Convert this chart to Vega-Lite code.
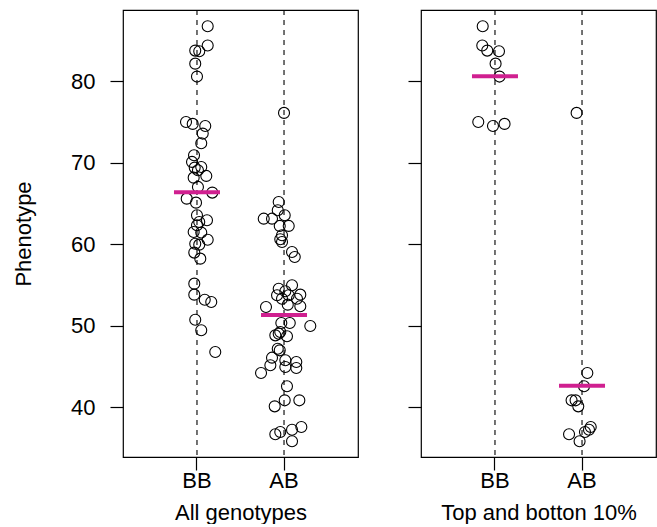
{
  "$schema": "https://vega.github.io/schema/vega-lite/v6.json",
  "padding": {"left": 11, "top": 8, "right": 0, "bottom": 0},
  "bounds": "flush",
  "spacing": 63,
  "config": {
    "font": "Liberation Sans",
    "view": {"stroke": "black", "strokeWidth": 1.2},
    "axis": {"grid": false, "domain": false, "labelFont": "Liberation Sans", "titleFont": "Liberation Sans", "labelFontSize": 22, "titleFontSize": 22, "titleFontWeight": "normal", "labelColor": "black", "titleColor": "black", "tickColor": "black", "tickSize": 13, "tickWidth": 1.2}
  },
  "datasets": {
    "all": [
      {"g":"BB","v":86.77,"j":0.123},{"g":"BB","v":84.39,"j":0.123},{"g":"BB","v":83.77,"j":-0.02},{"g":"BB","v":83.70,"j":0.026},
      {"g":"BB","v":82.17,"j":-0.02},{"g":"BB","v":80.58,"j":0.0},{"g":"BB","v":75.00,"j":-0.126},{"g":"BB","v":74.77,"j":-0.049},
      {"g":"BB","v":74.52,"j":0.095},{"g":"BB","v":73.58,"j":0.066},{"g":"BB","v":72.39,"j":0.049},{"g":"BB","v":70.92,"j":-0.034},
      {"g":"BB","v":70.10,"j":-0.057},{"g":"BB","v":69.40,"j":-0.026},{"g":"BB","v":69.48,"j":0.049},{"g":"BB","v":69.08,"j":0.011},
      {"g":"BB","v":68.38,"j":0.107},{"g":"BB","v":68.17,"j":-0.038},{"g":"BB","v":67.03,"j":0.011},{"g":"BB","v":66.33,"j":0.176},
      {"g":"BB","v":65.59,"j":-0.118},{"g":"BB","v":65.10,"j":-0.011},{"g":"BB","v":63.55,"j":0.0},{"g":"BB","v":62.93,"j":0.115},
      {"g":"BB","v":62.73,"j":0.026},{"g":"BB","v":62.32,"j":0.0},{"g":"BB","v":61.50,"j":-0.038},{"g":"BB","v":61.42,"j":0.049},
      {"g":"BB","v":60.55,"j":0.123},{"g":"BB","v":59.94,"j":0.026},{"g":"BB","v":60.05,"j":-0.02},{"g":"BB","v":58.96,"j":-0.031},{"g":"BB","v":58.22,"j":0.038},
      {"g":"BB","v":55.15,"j":-0.031},{"g":"BB","v":53.80,"j":-0.031},{"g":"BB","v":53.18,"j":0.089},{"g":"BB","v":52.90,"j":0.164},
      {"g":"BB","v":50.72,"j":-0.02},{"g":"BB","v":49.42,"j":0.049},{"g":"BB","v":46.76,"j":0.21},
      {"g":"AB","v":76.12,"j":0.0},{"g":"AB","v":65.18,"j":-0.061},{"g":"AB","v":64.16,"j":-0.072},{"g":"AB","v":63.13,"j":-0.233},
      {"g":"AB","v":63.13,"j":-0.138},{"g":"AB","v":63.55,"j":0.008},{"g":"AB","v":62.24,"j":-0.049},{"g":"AB","v":62.24,"j":0.054},
      {"g":"AB","v":61.09,"j":-0.023},{"g":"AB","v":60.60,"j":-0.043},{"g":"AB","v":60.27,"j":-0.023},{"g":"AB","v":59.04,"j":0.092},
      {"g":"AB","v":58.43,"j":0.123},{"g":"AB","v":54.95,"j":0.092},{"g":"AB","v":54.53,"j":-0.061},{"g":"AB","v":54.21,"j":0.015},
      {"g":"AB","v":53.80,"j":0.187},{"g":"AB","v":53.72,"j":-0.08},{"g":"AB","v":53.72,"j":0.054},{"g":"AB","v":53.30,"j":-0.023},
      {"g":"AB","v":53.30,"j":0.149},{"g":"AB","v":52.57,"j":0.043},{"g":"AB","v":52.37,"j":0.187},{"g":"AB","v":52.29,"j":-0.207},
      {"g":"AB","v":50.32,"j":-0.031},{"g":"AB","v":50.32,"j":0.066},{"g":"AB","v":49.95,"j":0.302},{"g":"AB","v":49.21,"j":-0.043},
      {"g":"AB","v":48.80,"j":-0.1},{"g":"AB","v":49.00,"j":-0.061},{"g":"AB","v":48.69,"j":0.034},{"g":"AB","v":47.16,"j":-0.072},
      {"g":"AB","v":46.96,"j":-0.049},{"g":"AB","v":46.06,"j":-0.138},{"g":"AB","v":45.12,"j":-0.157},{"g":"AB","v":45.74,"j":0.015},
      {"g":"AB","v":45.53,"j":0.141},{"g":"AB","v":44.91,"j":0.015},{"g":"AB","v":44.79,"j":0.141},{"g":"AB","v":44.18,"j":-0.264},
      {"g":"AB","v":42.54,"j":0.034},{"g":"AB","v":40.82,"j":0.008},{"g":"AB","v":40.82,"j":0.176},{"g":"AB","v":40.08,"j":-0.107},
      {"g":"AB","v":37.54,"j":0.199},{"g":"AB","v":37.21,"j":0.092},{"g":"AB","v":36.93,"j":-0.043},{"g":"AB","v":36.65,"j":-0.1},
      {"g":"AB","v":35.79,"j":0.092}
    ],
    "top": [
      {"g":"BB","v":86.77,"j":-0.141},{"g":"BB","v":84.39,"j":-0.146},{"g":"BB","v":83.77,"j":-0.089},{"g":"BB","v":83.70,"j":0.046},
      {"g":"BB","v":82.17,"j":0.007},{"g":"BB","v":80.58,"j":0.052},{"g":"BB","v":75.00,"j":-0.192},{"g":"BB","v":74.77,"j":0.11},
      {"g":"BB","v":74.52,"j":-0.023},
      {"g":"AB","v":76.12,"j":-0.062},{"g":"AB","v":44.18,"j":0.061},{"g":"AB","v":42.54,"j":0.023},{"g":"AB","v":40.82,"j":-0.12},
      {"g":"AB","v":40.82,"j":-0.074},{"g":"AB","v":40.08,"j":-0.043},{"g":"AB","v":37.54,"j":0.1},{"g":"AB","v":37.21,"j":0.08},
      {"g":"AB","v":36.93,"j":0.034},{"g":"AB","v":36.65,"j":-0.149},{"g":"AB","v":35.79,"j":-0.028}
    ]
  },
  "hconcat": [
    {
      "width": 235, "height": 447,
      "data": {"name": "all"},
      "encoding": {
        "x": {"field": "g", "type": "nominal", "scale": {"type": "band", "domain": ["BB","AB"], "paddingInner": 0, "paddingOuter": 0.35},
              "axis": {"title": "All genotypes", "labelAngle": 0, "labelPadding": 0, "titlePadding": 11}},
        "y": {"field": "v", "type": "quantitative", "scale": {"domain": [33.86, 88.757], "nice": false, "zero": false},
              "axis": {"values": [40,50,60,70,80], "title": "Phenotype", "labelPadding": 15, "titlePadding": 35}}
      },
      "layer": [
        {"transform": [{"aggregate": [{"op": "count", "as": "n"}], "groupby": ["g"]}],
         "mark": {"type": "rule", "color": "black", "strokeWidth": 1.1, "strokeDash": [5, 5]},
         "encoding": {"y": null}},
        {"mark": {"type": "point", "shape": "circle", "filled": false, "color": "black", "opacity": 1, "size": 121, "strokeWidth": 1.1},
         "encoding": {"xOffset": {"field": "j", "type": "quantitative", "scale": {"domain": [-0.5, 0.5]}}}},
        {"mark": {"type": "tick", "color": "#D02090", "thickness": 4, "size": 46, "opacity": 1},
         "encoding": {"y": {"aggregate": "mean", "field": "v", "type": "quantitative"}}}
      ]
    },
    {
      "width": 235, "height": 447,
      "data": {"name": "top"},
      "encoding": {
        "x": {"field": "g", "type": "nominal", "scale": {"type": "band", "domain": ["BB","AB"], "paddingInner": 0, "paddingOuter": 0.35},
              "axis": {"title": "Top and botton 10%", "labelAngle": 0, "labelPadding": 0, "titlePadding": 11}},
        "y": {"field": "v", "type": "quantitative", "scale": {"domain": [33.86, 88.757], "nice": false, "zero": false},
              "axis": {"values": [40,50,60,70,80], "title": null, "labels": false}}
      },
      "layer": [
        {"transform": [{"aggregate": [{"op": "count", "as": "n"}], "groupby": ["g"]}],
         "mark": {"type": "rule", "color": "black", "strokeWidth": 1.1, "strokeDash": [5, 5]},
         "encoding": {"y": null}},
        {"mark": {"type": "point", "shape": "circle", "filled": false, "color": "black", "opacity": 1, "size": 121, "strokeWidth": 1.1},
         "encoding": {"xOffset": {"field": "j", "type": "quantitative", "scale": {"domain": [-0.5, 0.5]}}}},
        {"mark": {"type": "tick", "color": "#D02090", "thickness": 4, "size": 46, "opacity": 1},
         "encoding": {"y": {"aggregate": "mean", "field": "v", "type": "quantitative"}}}
      ]
    }
  ]
}
